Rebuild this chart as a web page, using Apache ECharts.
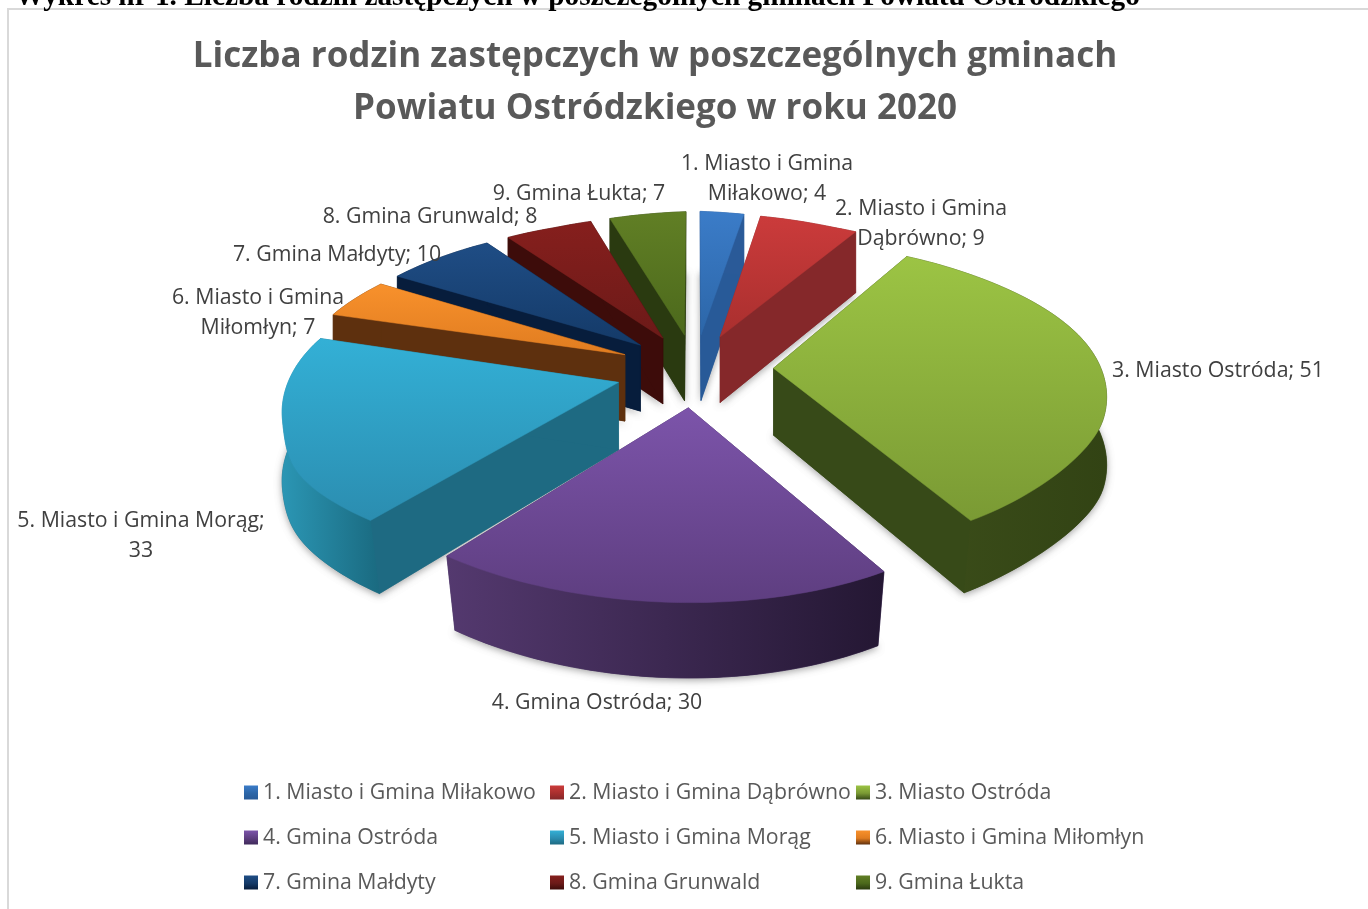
<!DOCTYPE html>
<html>
<head>
<meta charset="utf-8">
<style>
  html, body { margin: 0; padding: 0; background: #fff; overflow: hidden; }
  #main { width: 1368px; height: 909px; }
</style>
<script src="https://cdn.jsdelivr.net/npm/echarts@6/dist/echarts.min.js"></script>
</head>
<body>
<div id="main"></div>
<script>
// data
const names = [
  '1. Miasto i Gmina Miłakowo', '2. Miasto i Gmina Dąbrówno', '3. Miasto Ostróda',
  '4. Gmina Ostróda', '5. Miasto i Gmina Morąg', '6. Miasto i Gmina Miłomłyn',
  '7. Gmina Małdyty', '8. Gmina Grunwald', '9. Gmina Łukta'
];
const values = [4, 9, 51, 30, 33, 7, 10, 8, 7];

const headerText = 'Wykres nr 1. Liczba rodzin zastępczych w poszczególnych gminach Powiatu Ostródzkiego';
const titleText = 'Liczba rodzin zastępczych w poszczególnych gminach\nPowiatu Ostródzkiego w roku 2020';

// colours: top face (light, dark), radial wall, outer wall (left, right)
const topColors = [
  ['#3b7cc8', '#2c66a8'], ['#cb3b3b', '#a92f2e'], ['#9cc444', '#7a9a34'],
  ['#7c54aa', '#5e3e80'], ['#33b0d6', '#2b8db0'], ['#f8912c', '#e07c20'],
  ['#1f4d85', '#143a68'], ['#861f1d', '#6c1a18'], ['#617f25', '#4c691c']
];
const wallColors = ['#285a98', '#85282a', '#374a18', '#3f2a5a', '#1e6a82', '#5e300e', '#071d3c', '#3d0c0a', '#2a3a10'];
const rimColors = [
  ['#2a5a98', '#2a5a98'], ['#85282a', '#85282a'], ['#3c4e1a', '#324314'],
  ['#54396f', '#241733'], ['#2b96b4', '#1a6a80'], ['#5e300e', '#5e300e'],
  ['#071d3c', '#071d3c'], ['#3d0c0a', '#3d0c0a'], ['#2a3a10', '#2a3a10']
];

// pie projection
const CX = 695, CY = 370;
const SCALE_X = 328, SCALE_Y = 152, DEPTH = 67, PERSP = 0.15, WALL_PERSP = 0.09;
const EXPLODE = 0.24, SKEW = -35, ROLL = 17, SAG = 5;

// label layout: [centre x, centre y]
const labelPos = [[767, 179], [921, 224], [1218, 371], [597, 703], [141, 536], [258, 313], [337, 255], [430, 217], [579, 194]];
const labelBreak = ['Gmina ', 'Gmina ', null, null, '; ', 'Gmina ', null, null, null];

const total = values.reduce((a, b) => a + b, 0);

function angles(i) {
  let before = 0;
  for (let k = 0; k < i; k++) before += values[k];
  const a0 = before / total * Math.PI * 2;
  const a1 = (before + values[i]) / total * Math.PI * 2;
  return [a0, a1];
}

function ramp(v, lo, hi) {
  const t = Math.min(1, Math.max(0, (v - lo) / (hi - lo)));
  return t * t * (3 - 2 * t);
}

// ground plane point -> screen, x to the right, y towards the viewer
function project(x, y, low) {
  const d = 1 - PERSP * y;
  const near = Math.max(y, 0) * Math.max(ramp(y, 0.3, 0.8), 1 - Math.min(1, Math.abs(x) / 0.5));
  let sx = SCALE_X * x / d + SKEW * near;
  let sy = SCALE_Y * y / d + ROLL * x * near + SAG * Math.min(1, Math.abs(x) / 0.5) * ramp(-y, 0, 0.8);
  if (low) {
    sy += DEPTH / (1 - WALL_PERSP * y);
    sx *= 1 - 0.03 * near;
  }
  return [CX + sx, CY + sy];
}

function renderSlice(i) {
  return function () {
    const [a0, a1] = angles(i);
    const mid = (a0 + a1) / 2;
    const ox = EXPLODE * Math.sin(mid), oy = -EXPLODE * Math.cos(mid);
    const rim = [];
    const steps = Math.max(4, Math.round((a1 - a0) * 40));
    for (let s = 0; s <= steps; s++) {
      const a = a0 + (a1 - a0) * s / steps;
      rim.push([ox + Math.sin(a), oy - Math.cos(a)]);
    }
    const apex = [ox, oy];
    const up = p => project(p[0], p[1], false);
    const down = p => project(p[0], p[1], true);
    const poly = (points, fill, extra) => ({
      type: 'polygon',
      shape: { points: points },
      style: Object.assign({ fill: fill, stroke: fill, lineWidth: 0.5 }, extra || {})
    });
    const grad = (c, vertical) => ({
      type: 'linear', x: 0, y: 0, x2: vertical ? 0 : 1, y2: vertical ? 1 : 0,
      colorStops: [{ offset: 0, color: c[0] }, { offset: 1, color: c[1] }]
    });
    const last = rim[rim.length - 1];
    const startWall = [up(apex), up(rim[0]), down(rim[0]), down(apex)];
    const endWall = [up(apex), up(last), down(last), down(apex)];
    const outer = rim.map(up).concat(rim.slice().reverse().map(down));
    const floor = [down(apex)].concat(rim.map(down));
    const top = [up(apex)].concat(rim.map(up));
    return {
      type: 'group',
      children: [
        poly(floor, wallColors[i], { shadowBlur: 7, shadowColor: 'rgba(0,0,0,0.35)', shadowOffsetY: 2 }),
        poly(startWall, wallColors[i]),
        poly(endWall, wallColors[i]),
        poly(outer, grad(rimColors[i], false)),
        poly(top, grad(topColors[i], true))
      ]
    };
  };
}

// painter's order: far slices first
const pieSeries = names.map((name, i) => {
  const [a0, a1] = angles(i);
  return {
    type: 'custom',
    name: name,
    coordinateSystem: 'none',
    silent: true,
    z: Math.round(20 - Math.cos((a0 + a1) / 2) * 10),
    itemStyle: { color: topColors[i][0] },
    renderItem: renderSlice(i),
    data: [values[i]]
  };
});

function legendColumn(idx, left) {
  return {
    orient: 'vertical',
    left: left,
    top: 780,
    padding: 0,
    itemWidth: 14,
    itemHeight: 14,
    itemGap: 20,
    icon: 'rect',
    selectedMode: false,
    textStyle: { fontFamily: 'Open Sans', fontSize: 21.3, lineHeight: 25, color: '#595959' },
    data: idx.map(i => ({
      name: names[i],
      itemStyle: {
        color: {
          type: 'linear', x: 0, y: 0, x2: 0, y2: 1,
          colorStops: [
            { offset: 0, color: topColors[i][0] },
            { offset: 0.55, color: topColors[i][1] },
            { offset: 1, color: wallColors[i] }
          ]
        }
      }
    }))
  };
}

const labelItems = names.map((name, i) => {
  let t = name + '; ' + values[i];
  if (labelBreak[i]) {
    const at = t.indexOf(labelBreak[i]) + labelBreak[i].length;
    t = t.slice(0, at - 1) + '\n' + t.slice(at);
  }
  return {
    type: 'text',
    x: labelPos[i][0],
    y: labelPos[i][1],
    z: 100,
    silent: true,
    style: {
      text: t, align: 'center', verticalAlign: 'middle',
      fontFamily: 'Open Sans', fontSize: 21.3, lineHeight: 30, fill: '#404040'
    }
  };
});

const chart = echarts.init(document.getElementById('main'), null, { renderer: 'canvas' });
chart.setOption({
  backgroundColor: '#fff',
  animation: false,
  title: {
    text: titleText,
    left: 650,
    top: 26,
    textAlign: 'center',
    textStyle: { fontFamily: 'Open Sans', fontWeight: 'bold', fontSize: 35, lineHeight: 52, color: '#595959' }
  },
  legend: [
    legendColumn([0, 3, 6], 244),
    legendColumn([1, 4, 7], 550),
    legendColumn([2, 5, 8], 856)
  ],
  graphic: [
    {
      type: 'rect', silent: true, z: 0,
      shape: { x: 8, y: 9, width: 1500, height: 1100 },
      style: { fill: '#fff', stroke: '#d9d9d9', lineWidth: 2 }
    },
    {
      type: 'text', silent: true, z: 1, x: 15, y: 12,
      style: {
        text: headerText, align: 'left', verticalAlign: 'bottom',
        fontFamily: 'Liberation Serif', fontWeight: 'bold', fontSize: 29.3, fill: '#000'
      }
    }
  ].concat(labelItems),
  series: pieSeries
});
</script>
</body>
</html>
